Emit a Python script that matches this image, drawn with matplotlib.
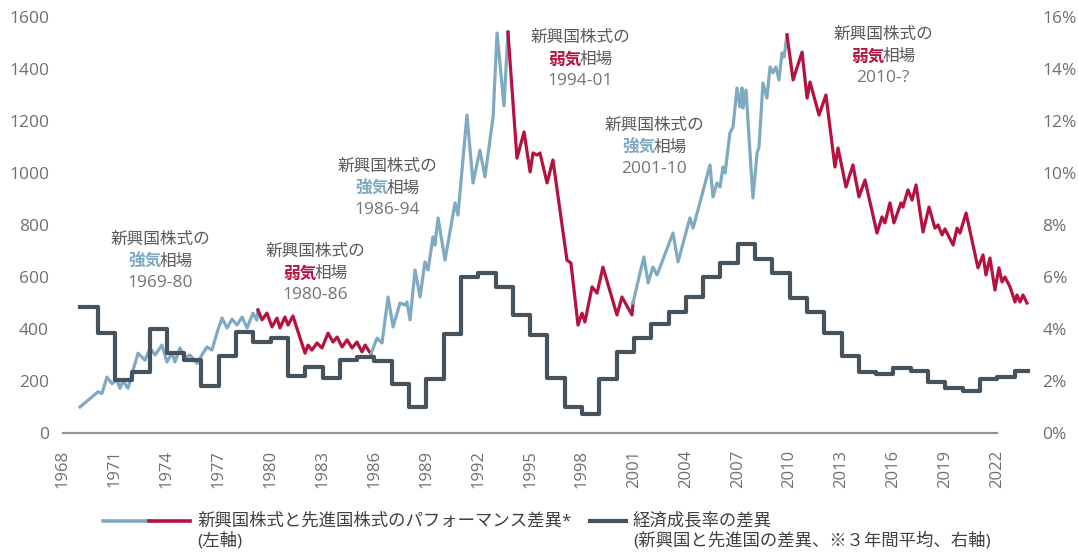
import matplotlib
matplotlib.use("Agg")
import matplotlib.pyplot as plt
from matplotlib.lines import Line2D

plt.rcParams['font.family'] = ['Open Sans', 'Noto Sans CJK JP', 'DejaVu Sans']

# EM vs DM equity performance differential (left axis)
perf_years = [
    1968.98, 1970.02, 1970.25, 1970.54, 1970.83, 1971.12, 1971.29, 1971.47, 1971.76, 1972.05,
    1972.34, 1972.74, 1973.03, 1973.32, 1973.72, 1974.01, 1974.30, 1974.47, 1974.76, 1975.05,
    1975.34, 1975.75, 1976.03, 1976.32, 1976.61, 1976.90, 1977.19, 1977.48, 1977.77, 1978.06,
    1978.35, 1978.64, 1978.98, 1979.21, 1979.27, 1979.50, 1979.79, 1980.08, 1980.37, 1980.54,
    1980.83, 1981.01, 1981.29, 1981.99, 1982.16, 1982.39, 1982.68, 1982.97, 1983.32, 1983.61,
    1983.84, 1984.13, 1984.42, 1984.71, 1984.99, 1985.28, 1985.46, 1985.80, 1986.15, 1986.44,
    1986.79, 1987.08, 1987.48, 1987.77, 1987.88, 1988.06, 1988.35, 1988.64, 1988.92, 1989.10,
    1989.39, 1989.50, 1989.68, 1990.08, 1990.66, 1990.83, 1991.35, 1991.70, 1992.10, 1992.39,
    1992.86, 1993.09, 1993.49, 1993.72, 1994.24, 1994.65, 1995.00, 1995.17, 1995.40, 1995.57,
    1995.98, 1996.32, 1997.13, 1997.36, 1997.77, 1998.00, 1998.17, 1998.58, 1998.87, 1999.21,
    2000.02, 2000.31, 2000.89, 2000.95, 2001.35, 2001.58, 2001.82, 2002.10, 2002.34, 2003.26,
    2003.55, 2004.24, 2004.42, 2005.40, 2005.57, 2005.80, 2005.98, 2006.15, 2006.27, 2006.55,
    2006.73, 2006.96, 2007.13, 2007.25, 2007.31, 2007.48, 2007.88, 2008.12, 2008.23, 2008.46,
    2008.69, 2008.87, 2009.04, 2009.21, 2009.39, 2009.56, 2009.68, 2009.85, 2010.20, 2010.72,
    2011.01, 2011.18, 2011.70, 2012.10, 2012.62, 2012.80, 2013.26, 2013.66, 2014.01, 2014.36,
    2015.05, 2015.34, 2015.51, 2015.80, 2016.03, 2016.44, 2016.55, 2016.84, 2017.08, 2017.31,
    2017.71, 2018.06, 2018.40, 2018.58, 2018.81, 2018.98, 2019.45, 2019.68, 2019.85, 2020.20,
    2020.89, 2021.18, 2021.35, 2021.58, 2021.87, 2022.10, 2022.28, 2022.45, 2022.74, 2023.03,
    2023.14, 2023.32, 2023.49, 2023.72,
]
perf_values = [
    100, 158, 152, 215, 190, 204, 172, 200, 172, 242,
    307, 280, 327, 300, 338, 273, 307, 273, 327, 288,
    300, 268, 300, 331, 319, 385, 442, 404, 438, 415,
    446, 404, 461, 434, 473, 435, 461, 408, 442, 404,
    446, 415, 450, 307, 338, 319, 346, 327, 384, 350,
    369, 331, 358, 327, 350, 312, 338, 304, 365, 346,
    523, 408, 500, 492, 504, 435, 627, 523, 658, 627,
    754, 723, 827, 665, 885, 838, 1223, 962, 1088, 985,
    1215, 1538, 1258, 1542, 1057, 1158, 1004, 1077, 1069, 1077,
    962, 1050, 665, 654, 415, 461, 427, 562, 538, 638,
    454, 523, 454, 500, 615, 677, 577, 638, 608, 769,
    658, 827, 788, 1031, 908, 962, 946, 1023, 1000, 1154,
    1177, 1327, 1254, 1327, 1250, 1319, 904, 1077, 1100, 1346,
    1288, 1408, 1385, 1408, 1358, 1462, 1446, 1531, 1358, 1465,
    1288, 1350, 1223, 1300, 1023, 1096, 946, 1031, 908, 973,
    769, 831, 808, 885, 808, 885, 869, 935, 896, 954,
    773, 869, 788, 800, 762, 785, 723, 788, 769, 846,
    635, 685, 608, 673, 550, 635, 581, 600, 562, 504,
    531, 504, 531, 500,
]
# bull / bear phase boundaries
phase_breaks = [1979.27, 1985.80, 1993.72, 2000.95, 2009.85]

# growth differential EM - DM, 3y average (right axis, %)
growth_years = list(range(1969, 2024))
growth_values = [
    4.85, 3.85, 2.04, 2.35, 4.0, 3.07, 2.8, 1.8, 2.96, 3.9,
    3.5, 3.65, 2.2, 2.54, 2.1, 2.8, 2.92, 2.77, 1.9, 1.0,
    2.06, 3.8, 6.0, 6.15, 5.6, 4.54, 3.77, 2.1, 1.0, 0.72,
    2.06, 3.1, 3.65, 4.2, 4.67, 5.25, 6.0, 6.55, 7.27, 6.7,
    6.17, 5.2, 4.67, 3.86, 2.96, 2.35, 2.27, 2.5, 2.38, 1.97,
    1.72, 1.62, 2.08, 2.15, 2.38,
]
growth_end = 2023.8

annotations = [
    ('強気', '1969-80'),
    ('弱気', '1980-86'),
    ('強気', '1986-94'),
    ('弱気', '1994-01'),
    ('強気', '2001-10'),
    ('弱気', '2010-?'),
]
legend1 = ['新興国株式と先進国株式のパフォーマンス差異*', '(左軸)']
legend2 = ['経済成長率の差異', '(新興国と先進国の差異、※３年間平均、右軸)']

blue = '#7FAAC0'
red = '#B5123F'
dark = '#45535E'
txt = '#5A5A5A'
tick_c = '#6F6F6F'

W, H = 1078, 552
fig = plt.figure(figsize=(W / 100, H / 100), dpi=100)
ax = fig.add_axes([63 / W, 119 / H, 967 / W, 416 / H])
ax.set_xlim(1968, 1968 + 967 / 17.3)
ax.set_ylim(0, 1600)

# performance line, split into phases
bounds = [perf_years[0]] + phase_breaks + [perf_years[-1]]
for i in range(len(bounds) - 1):
    xs = [x for x in perf_years if bounds[i] <= x <= bounds[i + 1]]
    ys = [v for x, v in zip(perf_years, perf_values) if bounds[i] <= x <= bounds[i + 1]]
    ax.plot(xs, ys, color=blue if i % 2 == 0 else red, lw=2.3,
            solid_joinstyle='round', clip_on=False, zorder=2)

ax2 = ax.twinx()
ax2.set_ylim(0, 16)
ax2.step(growth_years + [growth_end], growth_values + [growth_values[-1]],
         where='post', color=dark, lw=3.0, clip_on=False)

for a in (ax, ax2):
    for s in a.spines.values():
        s.set_visible(False)
ax.spines['bottom'].set_visible(True)
ax.spines['bottom'].set_bounds(1968, 2022)
ax.spines['bottom'].set_color('#8C959B')
ax.spines['bottom'].set_linewidth(1.6)

ax.set_xticks(list(range(1968, 2023, 3)))
ax.set_xticklabels([str(y) for y in range(1968, 2023, 3)], rotation=90)
ax.set_yticks(list(range(0, 1601, 200)))
ax.tick_params(axis='x', length=0, pad=12, labelsize=12, labelcolor=tick_c)
ax.tick_params(axis='y', length=0, pad=10, labelsize=12.5, labelcolor=tick_c)
ax2.set_yticks(list(range(0, 17, 2)))
ax2.set_yticklabels([f'{v}%' for v in range(0, 17, 2)])
ax2.tick_params(axis='y', length=0, pad=9, labelsize=12.5, labelcolor=tick_c)

# annotation positions (pixel centres of the first line)
ann_pos = [(160, 240), (315, 252), (387, 167), (580, 38), (654, 126), (883, 35)]


def px2data(px, py):
    return 1968 + (px - 63) / 17.3, (433 - py) / 0.26


lh = 21.5 / 0.26
for (kind, period), (px, py) in zip(annotations, ann_pos):
    x, y = px2data(px, py)
    c = blue if kind == '強気' else red
    ax.text(x, y, '新興国株式の', ha='center', va='center', fontsize=12, color=txt)
    ax.annotate(kind, (x, y - lh), xytext=(1.5, 0), textcoords='offset points',
                ha='right', va='center', fontsize=12, color=c, fontweight='bold')
    ax.annotate('相場', (x, y - lh), xytext=(0, 0), textcoords='offset points',
                ha='left', va='center', fontsize=12, color=txt)
    ax.text(x, y - 2 * lh, period, ha='center', va='center', fontsize=12.5,
            color='#707579')

# legend
ly = (H - 521) / H
fig.add_artist(Line2D([103 / W, 149 / W], [ly, ly], color=blue, lw=2.6,
                      transform=fig.transFigure))
fig.add_artist(Line2D([149 / W, 190 / W], [ly, ly], color=red, lw=2.6,
                      transform=fig.transFigure))
fig.add_artist(Line2D([590 / W, 626 / W], [ly, ly], color=dark, lw=3.0,
                      transform=fig.transFigure))
for x0, lines in ((197, legend1), (633, legend2)):
    fig.text(x0 / W, ly, lines[0], ha='left', va='center', fontsize=12.5, color='#404040')
    fig.text(x0 / W, (H - 541) / H, lines[1], ha='left', va='center', fontsize=12.5,
             color='#404040')

fig.savefig('out.png', dpi=100)
